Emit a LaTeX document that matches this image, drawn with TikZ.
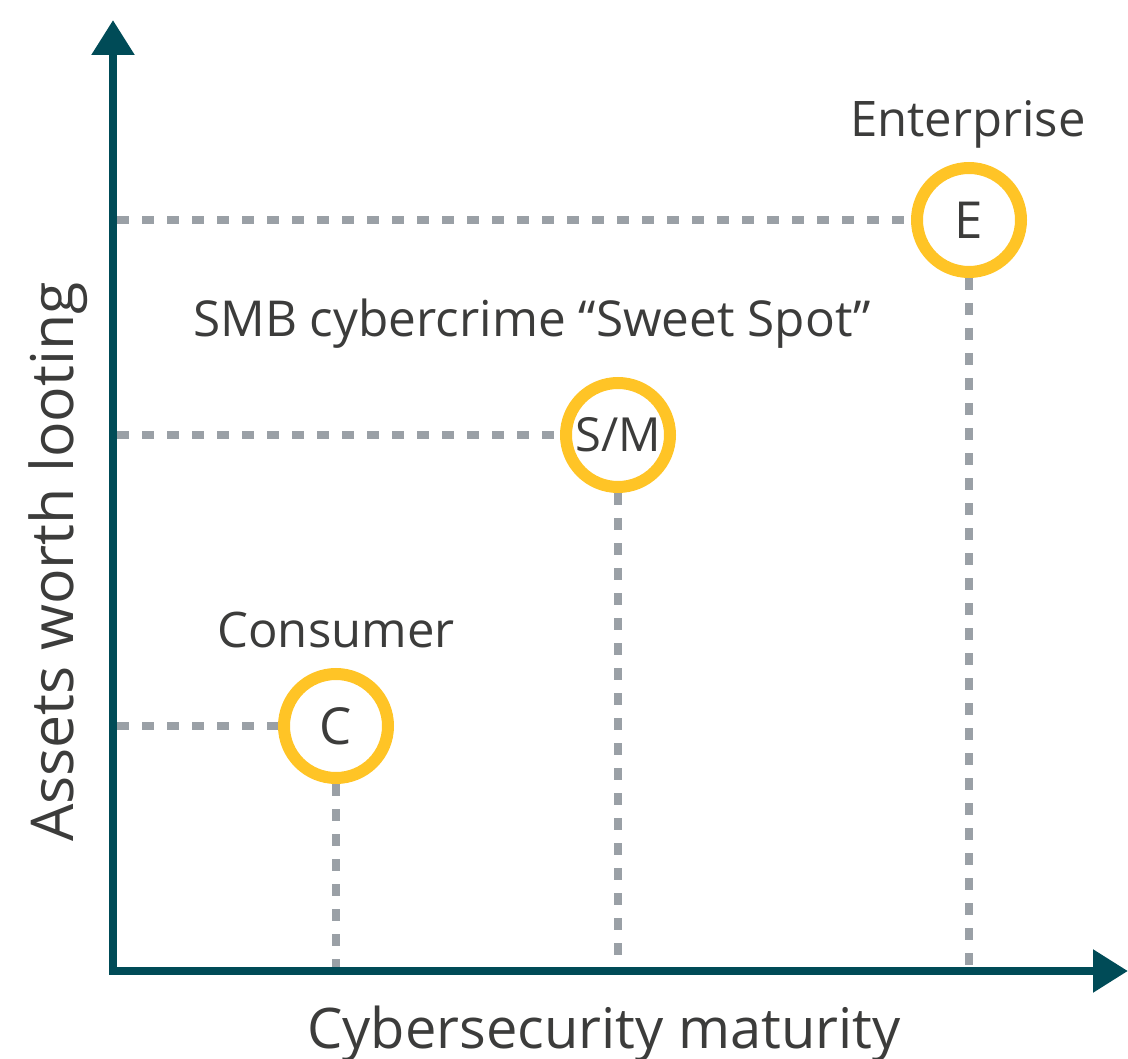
\documentclass[tikz,border=0pt]{standalone}
\usepackage{fontspec}
\setmainfont{Open Sans}
\usetikzlibrary{arrows.meta}
\definecolor{axisteal}{RGB}{0,75,87}
\definecolor{ringyellow}{RGB}{255,196,38}
\definecolor{guidegray}{RGB}{154,160,166}
\definecolor{textgray}{RGB}{60,60,59}
\tikzset{
  axisline/.style={draw=axisteal, line width=8.5pt, line join=miter,
    {Triangle[length=35pt,width=41pt]}-{Triangle[length=35pt,width=41pt]}},
  guide/.style={draw=guidegray, line width=8pt, dash pattern=on 12pt off 13pt},
  ring/.style={circle, draw=ringyellow, fill=white, line width=12pt, minimum size=104pt,
    inner sep=0pt, text=textgray},
  lbl/.style={text=textgray, inner sep=0pt, anchor=base},
}
\begin{document}
\begin{tikzpicture}[x=1pt,y=-1pt]
\useasboundingbox (0,0) rectangle (1128,1059);
\coordinate (O) at (113,971);
\coordinate (Ytop) at (113,20);
\coordinate (Xend) at (1128,971);
% rings
\node[ring, font=\fontsize{51}{60}\selectfont] (E) at (969,220) {E};
\node[ring, font=\fontsize{47}{55}\selectfont] (SM) at (618,435) {S/M};
\node[ring, font=\fontsize{51}{60}\selectfont] (C) at (336,726) {C};
% guides
\draw[guide] (O |- E) ++(4,0) -- (E.west);
\draw[guide] (O |- SM) ++(4,0) -- (SM.west);
\draw[guide] (O |- C) ++(4,0) -- (C.west);
\draw[guide] (E.south) -- (E |- O);
\draw[guide] (SM.south) -- (SM |- O);
\draw[guide] (C.south) -- (C |- O);
% axes
\draw[axisline] (Ytop) -- (O) -- (Xend);
% labels
\node[lbl, font=\fontsize{49}{58}\selectfont] (ent) at (968,137) {Enterprise};
\node[lbl, font=\fontsize{49.5}{58}\selectfont] (smb) at (532,337) {SMB cybercrime “Sweet Spot”};
\node[lbl, font=\fontsize{49}{58}\selectfont] (con) at (336,647) {Consumer};
\node[lbl, font=\fontsize{56}{66}\selectfont] (xl) at (604,1048) {Cybersecurity maturity};
\node[lbl, rotate=90, font=\fontsize{59}{70}\selectfont] (yl) at (73,562) {Assets worth looting};
\end{tikzpicture}
\end{document}
